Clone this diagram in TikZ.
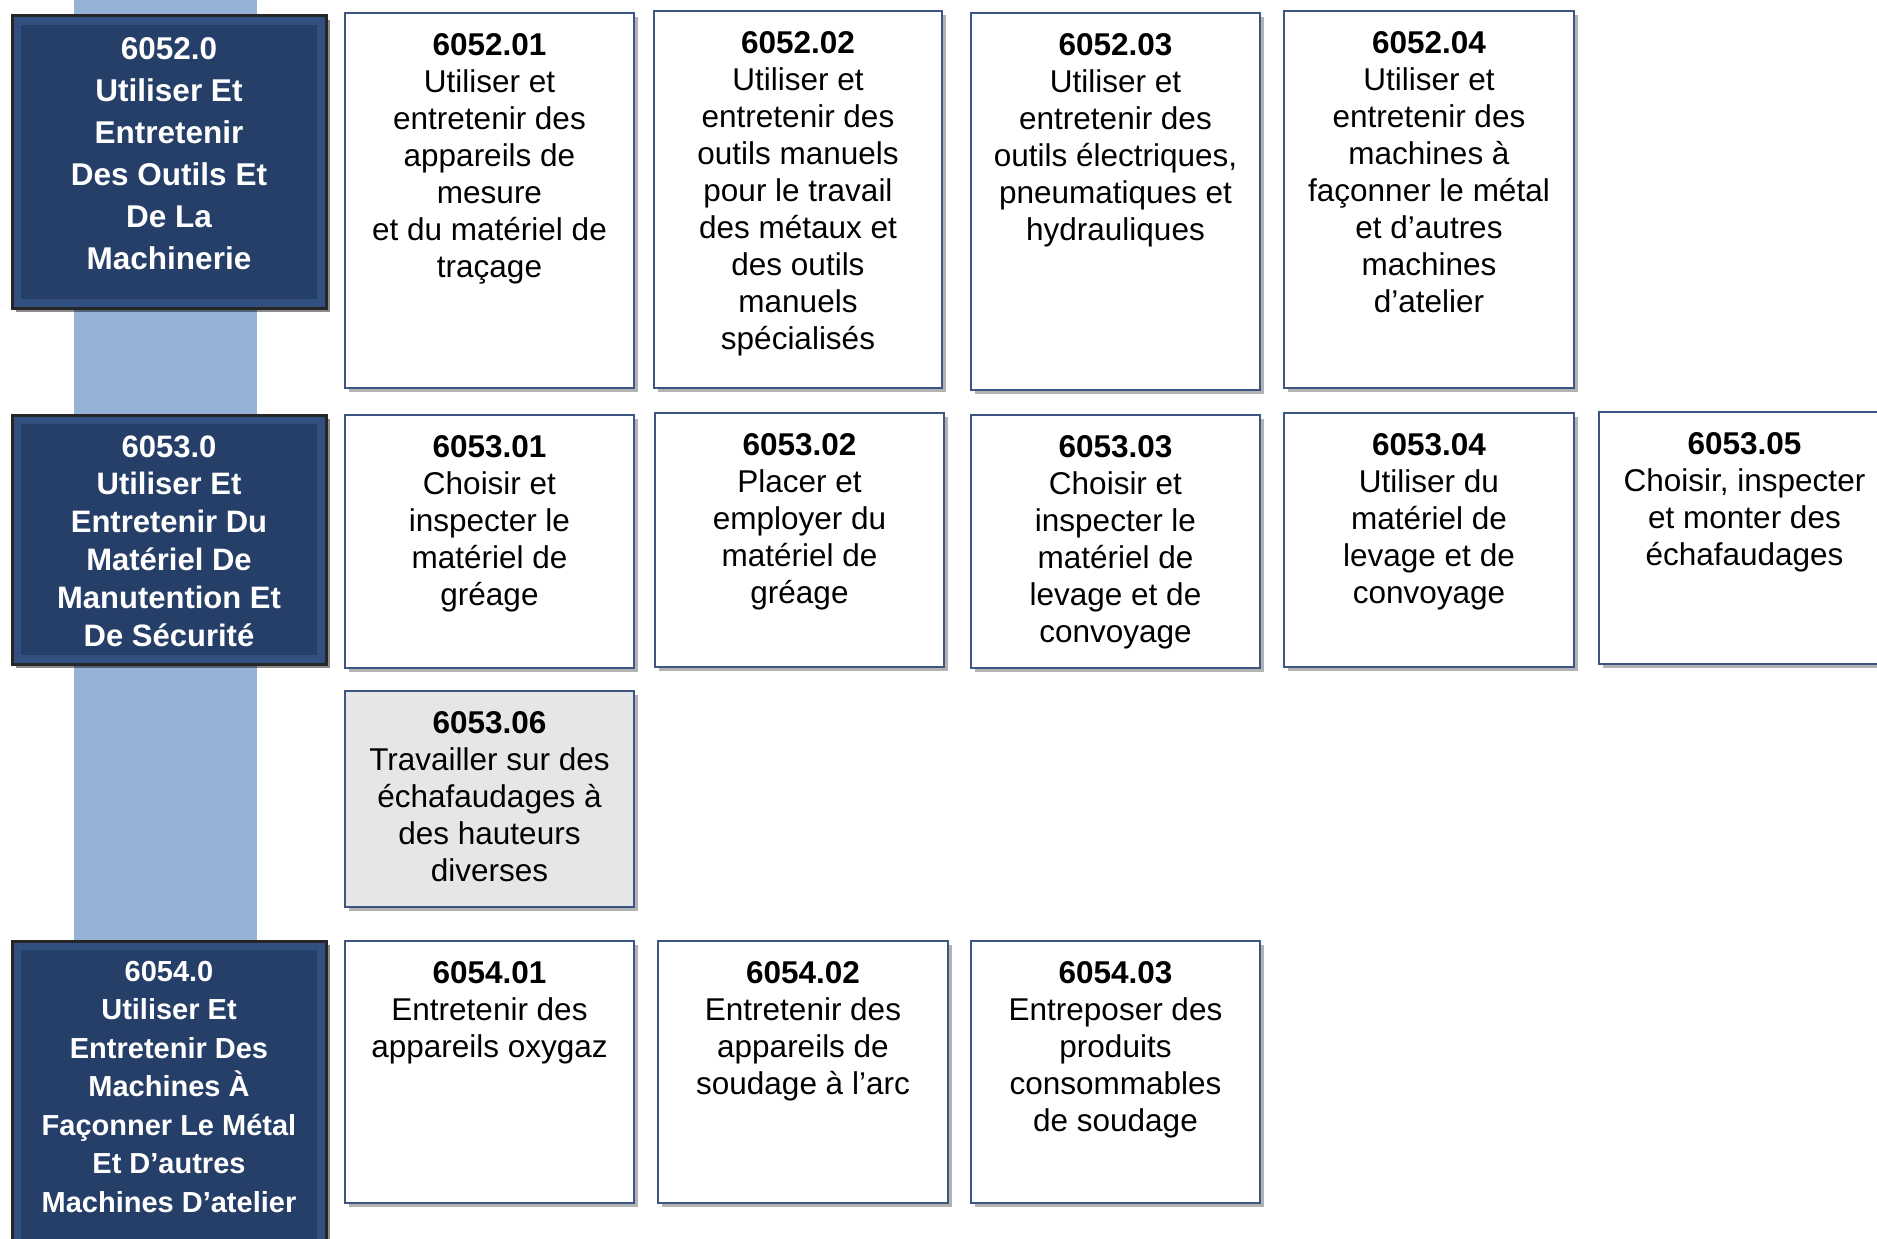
\documentclass[tikz,border=0pt]{standalone}
\usepackage{fontspec}
\setmainfont{Liberation Sans}
\usetikzlibrary{shadows}
\definecolor{navy}{HTML}{263F69}
\definecolor{navyedge}{HTML}{31507F}
\definecolor{barblue}{HTML}{95B3D7}
\definecolor{cardedge}{HTML}{3C5582}
\definecolor{cardgray}{HTML}{E6E6E6}
\newcommand\card[8]{%
  \node[cardbox, fill=#6, minimum width=#4-#2, minimum height=#5-#3, anchor=north west] (#1) at (#2,#3) {};
  \node[cardtext, anchor=north] (#1t) at ([yshift=-20pt]#1.north) {\textbf{#7}\\#8};
}
\newcommand\headbox[5]{%
  \node[hbox, minimum width=#4-#2, minimum height=#5-#3, anchor=north west] (#1) at (#2,#3) {};
  \fill[navy] ([shift={(9pt,-9pt)}]#1.north west) rectangle ([shift={(-9pt,9pt)}]#1.south east);
}
\begin{document}
\begin{tikzpicture}[x=1pt,y=-1pt,
  cardbox/.style={draw=cardedge, line width=2pt, inner sep=0pt, outer sep=0pt,
    drop shadow={shadow xshift=4pt, shadow yshift=-4pt, fill=black, opacity=0.3}},
  cardtext/.style={align=center, inner sep=0pt, text=black, font=\fontsize{31.5}{37}\selectfont},
  hbox/.style={fill=navyedge, draw=black!85, line width=3pt, inner sep=0pt, outer sep=0pt,
    drop shadow={shadow xshift=4pt, shadow yshift=-4pt, fill=black, opacity=0.45}},
  htext/.style={align=center, inner sep=0pt, text=white}]
\useasboundingbox (0,0) rectangle (1877,1239);
% vertical bar
\fill[barblue] (74,0) rectangle (257,960);
% headers
\headbox{h1}{12}{16}{326}{308}
\node[htext, font=\bfseries\fontsize{31.5}{42}\selectfont] (h1t) at (169,154) {6052.0\\Utiliser Et\\Entretenir\\Des Outils Et\\De La\\Machinerie};
\headbox{h2}{12}{415}{326}{664}
\node[htext, font=\bfseries\fontsize{31}{37.8}\selectfont] (h2t) at (169,541) {6053.0\\Utiliser Et\\Entretenir Du\\Matériel De\\Manutention Et\\De Sécurité};
\headbox{h3}{12}{941}{326}{1260}
\node[htext, font=\bfseries\fontsize{29}{38.5}\selectfont] (h3t) at (169,1087) {6054.0\\Utiliser Et\\Entretenir Des\\Machines À\\Façonner Le Métal\\Et D’autres\\Machines D’atelier};
% row 1
\card{c1}{345}{13}{634}{388}{white}{6052.01}{Utiliser et\\entretenir des\\appareils de\\mesure\\et du matériel de\\traçage}
\card{c2}{654}{11}{942}{388}{white}{6052.02}{Utiliser et\\entretenir des\\outils manuels\\pour le travail\\des métaux et\\des outils\\manuels\\spécialisés}
\card{c3}{971}{13}{1260}{390}{white}{6052.03}{Utiliser et\\entretenir des\\outils électriques,\\pneumatiques et\\hydrauliques}
\card{c4}{1284}{11}{1574}{388}{white}{6052.04}{Utiliser et\\entretenir des\\machines à\\façonner le métal\\et d’autres\\machines\\d’atelier}
% row 2
\card{d1}{345}{415}{634}{668}{white}{6053.01}{Choisir et\\inspecter le\\matériel de\\gréage}
\card{d2}{655}{413}{944}{667}{white}{6053.02}{Placer et\\employer du\\matériel de\\gréage}
\card{d3}{971}{415}{1260}{668}{white}{6053.03}{Choisir et\\inspecter le\\matériel de\\levage et de\\convoyage}
\card{d4}{1284}{413}{1574}{667}{white}{6053.04}{Utiliser du\\matériel de\\levage et de\\convoyage}
\card{d5}{1599}{412}{1890}{664}{white}{6053.05}{Choisir, inspecter\\et monter des\\échafaudages}
\card{d6}{345}{691}{634}{907}{cardgray}{6053.06}{Travailler sur des\\échafaudages à\\des hauteurs\\diverses}
% row 3
\card{e1}{345}{941}{634}{1203}{white}{6054.01}{Entretenir des\\appareils oxygaz}
\card{e2}{658}{941}{948}{1203}{white}{6054.02}{Entretenir des\\appareils de\\soudage à l’arc}
\card{e3}{971}{941}{1260}{1203}{white}{6054.03}{Entreposer des\\produits\\consommables\\de soudage}
\end{tikzpicture}
\end{document}
